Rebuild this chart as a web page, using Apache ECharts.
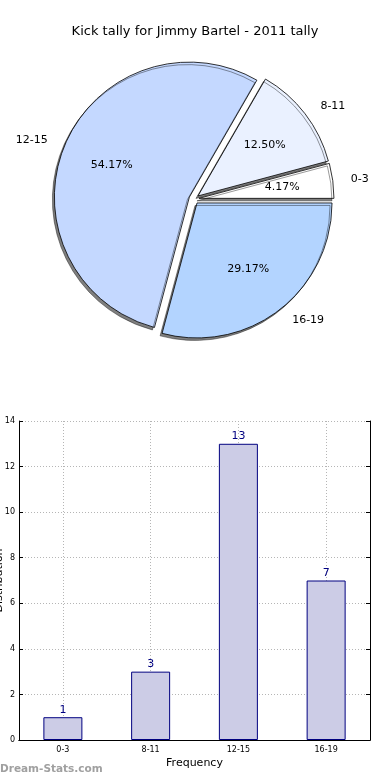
<!DOCTYPE html>
<html><head><meta charset="utf-8">
<script src="https://cdn.jsdelivr.net/npm/echarts@6/dist/echarts.min.js"></script>
<style>html,body{margin:0;padding:0;background:#fff}#c{width:390px;height:780px}</style>
</head><body><div id="c"></div>
<script>
const chartTitle = 'Kick tally for Jimmy Bartel - 2011 tally';
const categories = ['0-3', '8-11', '12-15', '16-19'];
const counts = [1, 3, 13, 7];
const sliceColors = ['#ffffff', '#eaf1ff', '#c4d8ff', '#b3d4ff'];
const yAxisName = 'Distribution';
const xAxisName = 'Frequency';
const watermark = 'Dream-Stats.com';

const FONT = 'DejaVu Sans';
const total = counts.reduce((a, b) => a + b, 0);
const pieData = categories.map((c, i) => ({
  name: c, value: counts[i], selected: true,
  itemStyle: { color: sliceColors[i] }
}));
const pieDataLabels = categories.map((c, i) => ({ name: c, value: counts[i], selected: true }));

const dotted = { type: [1, 2], color: '#b5b5b5', width: 1 };
const chart = echarts.init(document.getElementById('c'), null, { renderer: 'canvas' });
chart.setOption({
  animation: false,
  backgroundColor: '#fff',
  textStyle: { fontFamily: FONT },
  title: {
    text: chartTitle, left: 'center', top: 20,
    textStyle: { fontSize: 13, fontWeight: 'normal', color: '#000', fontFamily: FONT }
  },
  graphic: [{
    type: 'text', left: 0, top: 764,
    style: { text: watermark, fill: '#a0a0a0', fontSize: 10.5, fontWeight: 'bold', fontFamily: FONT }
  }],
  grid: { left: 19, right: 20, top: 421, bottom: 40, outerBoundsMode: 'none', containLabel: false },
  xAxis: [{
    type: 'category', data: categories, position: 'bottom',
    axisLine: { lineStyle: { color: '#000', width: 1 } },
    axisTick: { alignWithLabel: true, inside: true, length: 4, lineStyle: { color: '#000' } },
    axisLabel: { fontSize: 8, color: '#000', margin: 6, fontFamily: FONT },
    splitLine: { show: true, alignWithLabel: true, lineStyle: dotted },
    name: xAxisName, nameLocation: 'middle', nameGap: 18,
    nameTextStyle: { fontSize: 11, color: '#000', fontFamily: FONT }
  }, {
    type: 'category', data: categories, position: 'top',
    axisLine: { lineStyle: { color: '#000', width: 1 } },
    axisTick: { alignWithLabel: true, inside: true, length: 4, lineStyle: { color: '#000' } },
    axisLabel: { show: false }, splitLine: { show: false }
  }],
  yAxis: [{
    type: 'value', min: 0, max: 14, interval: 2, position: 'left',
    axisLine: { show: true, lineStyle: { color: '#000', width: 1 } },
    axisTick: { show: true, inside: true, length: 4, lineStyle: { color: '#000' } },
    axisLabel: { fontSize: 8, color: '#000', margin: 4, fontFamily: FONT },
    splitLine: { show: true, lineStyle: dotted },
    name: yAxisName, nameLocation: 'middle', nameGap: 14, nameRotate: 90,
    nameMoveOverlap: false,
    nameTextStyle: { fontSize: 11, color: '#000', fontFamily: FONT }
  }, {
    type: 'value', min: 0, max: 14, interval: 2, position: 'right',
    axisLine: { show: true, lineStyle: { color: '#000', width: 1 } },
    axisTick: { show: true, inside: true, length: 4, lineStyle: { color: '#000' } },
    axisLabel: { show: false }, splitLine: { show: false }
  }],
  series: [{
    type: 'pie', center: [194, 199], radius: 135,
    startAngle: 0, clockwise: false,
    selectedMode: 'multiple', selectedOffset: 5,
    avoidLabelOverlap: false, silent: true,
    emphasis: { disabled: true },
    data: pieData,
    itemStyle: {
      borderColor: '#000', borderWidth: 0.8,
      shadowColor: 'rgba(0,0,0,0.5)', shadowOffsetX: -2, shadowOffsetY: 2.5, shadowBlur: 0
    },
    label: {
      show: true, position: 'outside', color: '#000', fontSize: 11, fontFamily: FONT,
      formatter: '{b}'
    },
    labelLine: { show: false, length: 13, length2: 0 }
  }, {
    type: 'pie', center: [194, 199], radius: 162,
    startAngle: 0, clockwise: false,
    selectedMode: 'multiple', selectedOffset: 5,
    avoidLabelOverlap: false, silent: true, z: 3,
    emphasis: { disabled: true },
    data: pieDataLabels,
    itemStyle: { color: 'rgba(0,0,0,0)', borderWidth: 0 },
    label: {
      show: true, position: 'inside', color: '#000', fontSize: 11, fontFamily: FONT,
      formatter: p => (p.value / total * 100).toFixed(2) + '%'
    },
    labelLine: { show: false }
  }, {
    type: 'bar', xAxisIndex: 0, yAxisIndex: 0,
    data: counts, barWidth: 39,
    itemStyle: { color: '#ccccE6', borderColor: '#000080', borderWidth: 1 },
    label: { show: true, position: 'top', color: '#000080', fontSize: 11, distance: 2, fontFamily: FONT },
    emphasis: { disabled: true }
  }]
});
</script></body></html>
